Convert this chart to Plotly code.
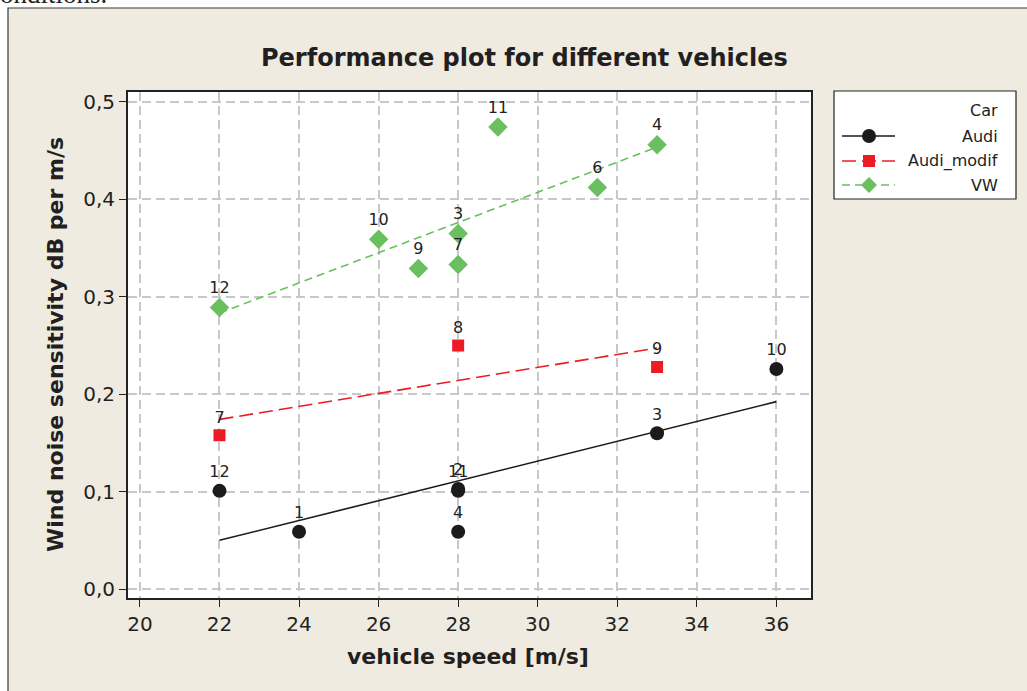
import numpy as np
import plotly.graph_objects as go

# ---------------- data ----------------
audi_x = [22, 24, 28, 28, 28, 33, 36]
audi_y = [0.101, 0.059, 0.101, 0.103, 0.059, 0.160, 0.226]
audi_lbl = ["12", "1", "11", "2", "4", "3", "10"]

mod_x = [22, 28, 33]
mod_y = [0.158, 0.250, 0.228]
mod_lbl = ["7", "8", "9"]

vw_x = [22, 26, 27, 28, 28, 29, 31.5, 33]
vw_y = [0.289, 0.359, 0.329, 0.365, 0.333, 0.474, 0.412, 0.456]
vw_lbl = ["12", "10", "9", "3", "7", "11", "6", "4"]

x_ticks = [20, 22, 24, 26, 28, 30, 32, 34, 36]
y_ticks = [0.0, 0.1, 0.2, 0.3, 0.4, 0.5]

BLACK = "#1c1a1b"
RED = "#ec1c24"
GREEN = "#6abf5f"
BEIGE = "#efebe1"
FONT = "DejaVu Sans"

W, H = 1027, 691
L, R, T, B = 128, 811, 92, 598


def px(x):
    return (x - L) / (R - L)


def py(y):
    return (B - y) / (B - T)


def fit(xs, ys):
    xs = np.asarray(xs, float)
    ys = np.asarray(ys, float)
    k, b = np.polyfit(xs, ys, 1)
    xx = np.array([xs.min(), xs.max()])
    return xx, k * xx + b


fig = go.Figure()

series = [
    (audi_x, audi_y, audi_lbl, BLACK, "circle", 14, "solid"),
    (mod_x, mod_y, mod_lbl, RED, "square", 12, "14px,6px"),
    (vw_x, vw_y, vw_lbl, GREEN, "diamond", 15, "8px,5px"),
]

for xs, ys, lbls, col, sym, sz, dash in series:
    fx, fy = fit(xs, ys)
    fig.add_trace(go.Scatter(x=fx, y=fy, mode="lines",
                             line=dict(color=col, width=1.6, dash=dash),
                             showlegend=False, hoverinfo="skip"))
    fig.add_trace(go.Scatter(x=xs, y=ys, mode="markers+text", text=lbls,
                             textposition="top center",
                             textfont=dict(family=FONT, size=16, color="#222"),
                             marker=dict(color=col, symbol=sym, size=sz, line=dict(width=0)),
                             showlegend=False))

shapes = []
# beige panel
shapes.append(dict(type="rect", xref="paper", yref="paper",
                   x0=px(8), x1=px(1040), y0=py(8), y1=py(710),
                   fillcolor=BEIGE, line=dict(color="#3a3a3a", width=1.2), layer="below"))
# plot area white background
shapes.append(dict(type="rect", xref="paper", yref="paper",
                   x0=0, x1=1, y0=0, y1=1, fillcolor="white",
                   line=dict(width=0), layer="below"))
# legend box
lx0, lx1, ly0, ly1 = 834, 1016, 91, 199
shapes.append(dict(type="rect", xref="paper", yref="paper",
                   x0=px(lx0), x1=px(lx1), y0=py(ly0), y1=py(ly1),
                   fillcolor="white", line=dict(color="#222", width=1.2)))

leg_items = [("Audi", BLACK, "circle", 136, "solid"),
             ("Audi_modif", RED, "square", 161, "14px,6px"),
             ("VW", GREEN, "diamond", 185, "8px,5px")]
annotations = []
for name, col, sym, yy, dash in leg_items:
    shapes.append(dict(type="line", xref="paper", yref="paper",
                       x0=px(842), x1=px(895), y0=py(yy), y1=py(yy),
                       line=dict(color=col, width=1.6, dash=dash)))
    cx = 869
    if sym == "circle":
        shapes.append(dict(type="circle", xref="paper", yref="paper",
                           x0=px(cx - 7), x1=px(cx + 7), y0=py(yy - 7), y1=py(yy + 7),
                           fillcolor=col, line=dict(width=0)))
    elif sym == "square":
        shapes.append(dict(type="rect", xref="paper", yref="paper",
                           x0=px(cx - 6), x1=px(cx + 6), y0=py(yy - 6), y1=py(yy + 6),
                           fillcolor=col, line=dict(width=0)))
    else:
        d = 8
        path = "M {} {} L {} {} L {} {} L {} {} Z".format(
            px(cx - d), py(yy), px(cx), py(yy - d), px(cx + d), py(yy), px(cx), py(yy + d))
        shapes.append(dict(type="path", xref="paper", yref="paper", path=path,
                           fillcolor=col, line=dict(width=0)))
    annotations.append(dict(text=name, xref="paper", yref="paper", x=px(1000), y=py(yy),
                            xanchor="right", yanchor="middle", showarrow=False,
                            font=dict(family=FONT, size=16, color="#222")))
annotations.append(dict(text="Car", xref="paper", yref="paper", x=px(1000), y=py(110),
                        xanchor="right", yanchor="middle", showarrow=False,
                        font=dict(family=FONT, size=16, color="#222")))

# title and axis titles
annotations.append(dict(text="<b>Performance plot for different vehicles</b>",
                        xref="paper", yref="paper", x=px(524), y=py(58),
                        xanchor="center", yanchor="middle", showarrow=False,
                        font=dict(family=FONT, size=24, color="#231f20")))
annotations.append(dict(text="<b>vehicle speed [m/s]</b>",
                        xref="paper", yref="paper", x=px(468), y=py(656),
                        xanchor="center", yanchor="middle", showarrow=False,
                        font=dict(family=FONT, size=22, color="#231f20")))
annotations.append(dict(text="<b>Wind noise sensitivity dB per m/s</b>",
                        xref="paper", yref="paper", x=px(55), y=py(345),
                        xanchor="center", yanchor="middle", showarrow=False, textangle=-90,
                        font=dict(family=FONT, size=22, color="#231f20")))
# clipped document text above the figure
annotations.append(dict(text="conditions.", xref="paper", yref="paper", x=px(-14), y=py(11),
                        xanchor="left", yanchor="bottom", showarrow=False,
                        font=dict(family="Liberation Serif", size=27, color="#222")))

grid = dict(showgrid=True, gridcolor="#c8c8c8", gridwidth=1.8, griddash="9px,5px")
axis_common = dict(showline=True, linecolor="#222", linewidth=1.8, mirror=True,
                   ticks="outside", ticklen=7, tickcolor="#222", tickwidth=1,
                   zeroline=False, tickfont=dict(family=FONT, size=20, color="#231f20"),
                   **grid)

fig.update_layout(
    width=W, height=H,
    margin=dict(l=L, r=W - R, t=T, b=H - B),
    paper_bgcolor="white", plot_bgcolor="rgba(0,0,0,0)",
    separators=", ",
    showlegend=False,
    shapes=shapes, annotations=annotations,
    xaxis=dict(range=[19.7, 36.87], tickvals=x_ticks, **axis_common),
    yaxis=dict(range=[-0.0089, 0.510], tickvals=y_ticks, tickformat=".1f", **axis_common),
)

fig.write_html("out.html")
